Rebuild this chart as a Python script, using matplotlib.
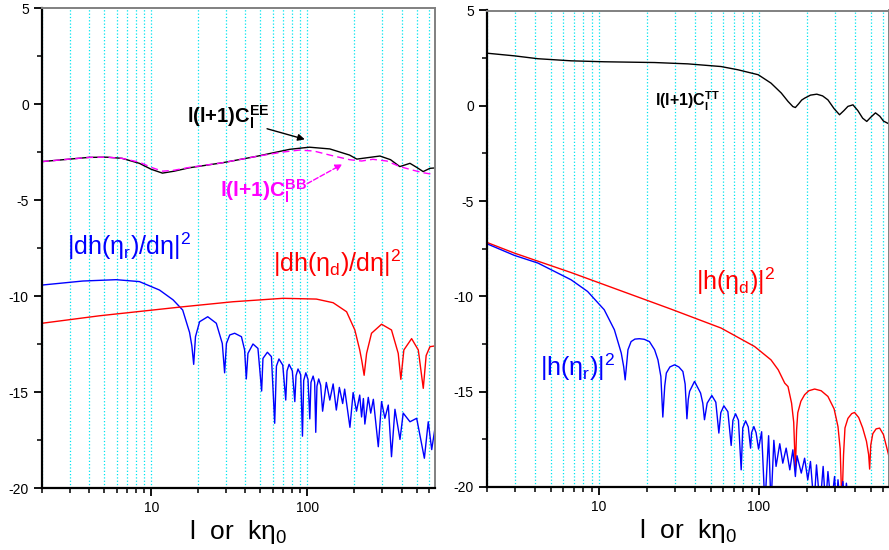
import numpy as np
import matplotlib
matplotlib.use('Agg')
import matplotlib.pyplot as plt
from matplotlib.ticker import LogLocator, NullFormatter, MultipleLocator

plt.rcParams['font.family'] = ['Liberation Sans', 'DejaVu Sans']
plt.rcParams['mathtext.default'] = 'regular'
plt.rcParams['axes.unicode_minus'] = False

# ---- left panel: polarisation spectra and |dh/deta|^2 ----
ee_l = [2, 4, 5.2, 6.5, 8.4, 10, 11.8, 14, 17.6, 28.6, 47, 77, 103, 139, 186, 207, 240,
        291, 340, 390, 453, 500, 550, 608, 655]
ee_v = [-3.0, -2.78, -2.77, -2.83, -3.09, -3.4, -3.6, -3.5, -3.32, -3.06, -2.73, -2.36, -2.25,
        -2.34, -2.66, -2.87, -2.8, -2.71, -2.9, -3.26, -3.09, -3.3, -3.52, -3.35, -3.33]

bb_l = [2, 4, 5.2, 6.5, 8.4, 10, 11.8, 14, 17.6, 28.6, 47, 70, 89, 110, 139, 186, 222,
        262, 322, 390, 470, 550, 655]
bb_v = [-3.0, -2.78, -2.77, -2.83, -3.03, -3.3, -3.5, -3.45, -3.3, -3.06, -2.73, -2.5, -2.4,
        -2.45, -2.66, -2.9, -2.97, -2.88, -2.97, -3.26, -3.44, -3.58, -3.68]

dhr_l = [2, 3.65, 5.97, 8.4, 11.3, 13.8, 15.9, 17.6, 18.2, 18.7, 19.2, 20.4, 23.0, 26.1,
         28.5, 29.5, 30.3, 31.8, 34.2, 37.8, 39.6, 40.6, 41.6, 44.8, 48.2, 50.9, 51.9, 55.4,
         58.8, 61.7, 63.3, 65.7, 69.5, 72.6, 74, 76.3, 80, 83, 84.5, 87, 90.5, 92.9, 94.6,
         97.6, 100.8, 103.5, 105.3, 108.7, 111.2, 113, 115, 118, 121.5, 125,
         132, 139, 146, 153, 160, 168, 173, 187, 196, 206, 216, 222, 228, 233, 245, 254,
         264, 284, 298, 313, 329, 345, 363, 391, 410, 453, 500, 560, 593, 624, 660]
dhr_v = [-9.43, -9.22, -9.15, -9.25, -9.69, -10.2, -10.73, -11.9, -12.6, -13.56, -12.12,
         -11.34, -11.08, -11.42, -12.47, -14.0, -12.47, -12.03, -11.94, -12.12, -12.81,
         -14.32, -12.99, -12.5, -12.73, -14.95, -13.25, -12.93, -13.16, -16.63, -13.65,
         -13.28, -13.6, -15.42, -13.9, -13.56, -13.9, -15.5, -14.15, -13.8, -14.1, -17.3,
         -14.4, -14.0, -14.35, -16.4, -14.5, -14.17, -14.5, -17.1, -14.7, -14.32, -14.65,
         -16.0,
         -14.5, -15.42, -14.58, -15.94, -14.76, -15.6, -14.85, -16.84, -15.03, -16.0,
         -15.16, -16.3, -15.34, -16.67, -15.28, -16.1, -15.38, -17.85, -15.5, -16.37,
         -15.68, -18.37, -15.9, -17.47, -16.1, -16.55, -16.37, -18.45, -16.55, -18.0, -16.7]

dhd_l = [2, 4.67, 16, 33.3, 69.8, 114, 146, 178, 201, 216, 223, 230.5, 239, 257, 298, 345,
         381, 396, 414, 464, 512, 551, 575, 608, 655]
dhd_v = [-11.42, -11.03, -10.56, -10.3, -10.12, -10.16, -10.35, -10.82, -11.77, -12.81,
         -13.4, -14.13, -12.99, -11.94, -11.47, -11.77, -12.99, -14.34, -12.81, -12.22,
         -12.81, -14.81, -13.1, -12.64, -12.6]

# ---- right panel: temperature spectrum and |h|^2 ----
tt_l = [2, 2.97, 4.16, 6.71, 10.8, 22.3, 36, 58, 74, 99, 119, 138, 152, 163, 169, 177,
        185, 193, 210, 230, 250, 270, 295, 319, 340, 360, 387, 415, 445, 472, 500, 535,
        570, 600, 650]
tt_v = [2.76, 2.62, 2.47, 2.36, 2.31, 2.27, 2.2, 2.06, 1.89, 1.63, 1.19, 0.67, 0.23, -0.04,
        -0.09, 0.1, 0.3, 0.4, 0.56, 0.61, 0.52, 0.31, -0.15, -0.47, -0.25, -0.03, 0.05,
        -0.25, -0.65, -0.82, -0.6, -0.37, -0.55, -0.8, -0.95]

hd_l = [2, 2.97, 6.71, 28.3, 58, 94, 119, 132, 145, 152, 160, 165, 169, 172, 175, 183, 193,
        205, 223, 245, 270, 295, 312, 322, 330, 338, 345, 360, 380, 396, 420, 445, 470,
        485, 492, 500, 515, 540, 568, 600, 650]
hd_v = [-7.17, -7.73, -8.75, -10.67, -11.66, -12.63, -13.33, -13.85, -14.55, -14.73, -15.6,
        -16.6, -19.1, -17.0, -16.1, -15.5, -15.16, -14.95, -14.86, -14.95, -15.25, -15.9,
        -16.83, -18.0, -21.0, -18.3, -16.9, -16.4, -16.15, -16.09, -16.35, -16.9, -17.6,
        -18.3, -19.06, -17.8, -17.2, -16.95, -16.91, -17.25, -18.4]

hr_l = [2, 2.97, 4.16, 6.71, 8.5, 10.8, 12.5, 13.8, 14.3, 14.6, 15.2, 15.9, 16.8, 17.9, 19.2,
        20.7, 22.3, 23.4, 24.4, 25.1, 25.8, 26.4, 27.8, 29.7, 31.6, 33.5, 34.6, 35.5, 36.2,
        36.9, 39.6, 43.2, 44.6, 45.7, 47.5, 50.8, 53.8, 56.2, 57.8, 60.4, 64, 67.1, 68.8,
        71.5, 74.5, 77.5, 79.3, 82.6, 85.8, 88.7, 90, 93, 96,
        99.5, 104, 109, 115, 119, 124, 128, 135, 141, 148, 156, 163, 169, 173, 184, 193, 202,
        210, 221, 229, 241, 252, 261, 270, 283, 297, 305, 312, 323, 335, 344, 352, 365]
hr_v = [-7.24, -7.85, -8.25, -9.13, -9.74, -10.7, -11.75, -12.97, -13.7, -14.38, -12.8,
        -12.37, -12.24, -12.22, -12.25, -12.37, -12.8, -13.33, -14.2, -16.33, -14.7, -14.02,
        -13.7, -13.59, -13.7, -13.94, -14.6, -16.42, -15.4, -14.98, -14.46, -15.07, -15.6,
        -16.47, -15.6, -15.2, -15.55, -17.17, -16.1, -15.74, -16.05, -17.82, -16.5,
        -16.16, -16.5, -19.1, -16.9, -16.53, -16.85, -17.96, -17.15, -16.83, -17.15,
        -18.01, -17.1, -21, -17.31, -21, -17.55, -18.92, -17.73, -18.75, -17.96, -19.1,
        -18.05, -19.45, -18.36, -19.27, -18.49, -19.62, -18.66, -21, -18.84, -21, -18.92,
        -21, -19.19, -21, -19.45, -21, -19.62, -21, -19.71, -21, -19.8, -21]

fig = plt.figure(figsize=(8.89, 5.5), dpi=100)
axL = fig.add_axes([42 / 889, 62 / 550, 393 / 889, 480 / 550])
axR = fig.add_axes([487 / 889, 63 / 550, 402 / 889, 476.5 / 550])


def style(ax, xmax):
    ax.set_xscale('log')
    ax.set_xlim(2, xmax)
    ax.set_ylim(-20, 5)
    ax.set_xticks([10, 100])
    ax.set_xticklabels(['10', '100'])
    ax.xaxis.set_minor_locator(LogLocator(base=10, subs=np.arange(2, 10)))
    ax.xaxis.set_minor_formatter(NullFormatter())
    ax.yaxis.set_major_locator(MultipleLocator(5))
    ax.yaxis.set_minor_locator(MultipleLocator(2.5))
    ax.grid(True, which='both', axis='x', color='#00e5f0', ls=':', lw=0.9)
    ax.set_axisbelow(True)
    ax.tick_params(which='major', direction='out', length=6, width=1.3, labelsize=10,
                   top=False, right=False)
    ax.tick_params(which='minor', direction='out', length=3.5, width=1.1,
                   top=False, right=False)
    for s in ('left', 'bottom'):
        ax.spines[s].set_linewidth(1.6)
        ax.spines[s].set_color('black')
    for s in ('top', 'right'):
        ax.spines[s].set_linewidth(1.4)
        ax.spines[s].set_color('#808080')
    ax.set_xlabel(r'l  or  k$\eta_0$', fontsize=19, labelpad=2)


style(axL, 655)
style(axR, 650)

# left panel
axL.plot(ee_l, ee_v, color='black', lw=1.0)
axL.plot(bb_l, bb_v, color='#ff00ff', lw=1.0, ls=(0, (5, 3)))
axL.plot(dhr_l, dhr_v, color='#0000ff', lw=1.0)
axL.plot(dhd_l, dhd_v, color='#ff0000', lw=1.0)

axL.text(17, -0.99, r'l(l+1)C$_l^{EE}$', fontsize=14.5, fontweight='bold', color='black')
axL.annotate('', xy=(100, -1.88), xytext=(53, -1.25),
             arrowprops=dict(arrowstyle='-|>', color='black', lw=1.0, mutation_scale=10))
axL.text(27.4, -4.84, r'l(l+1)C$_l^{BB}$', fontsize=15, fontweight='bold', color='#ff00ff')
axL.annotate('', xy=(173, -3.07), xytext=(96, -4.22),
             arrowprops=dict(arrowstyle='-|>', color='#ff00ff', lw=1.0, ls='--',
                             mutation_scale=10))
axL.text(2.9, -7.86, r'|dh($\eta_r$)/d$\eta$|$^2$', fontsize=18, color='#0000ff')
axL.text(60, -8.75, r'|dh($\eta_d$)/d$\eta$|$^2$', fontsize=18, color='#ff0000')

# right panel
axR.plot(tt_l, tt_v, color='black', lw=1.0)
axR.plot(hd_l, hd_v, color='#ff0000', lw=1.0)
axR.plot(hr_l, hr_v, color='#0000ff', lw=1.0)

axR.text(22.4, -0.05, r'l(l+1)C$_l^{TT}$', fontsize=11.5, fontweight='bold', color='black')
axR.text(40.4, -9.69, r'|h($\eta_d$)|$^2$', fontsize=18, color='#ff0000')
axR.text(4.28, -14.2, r'|h($\eta_r$)|$^2$', fontsize=18, color='#0000ff')

fig.savefig('out.png', dpi=100)
